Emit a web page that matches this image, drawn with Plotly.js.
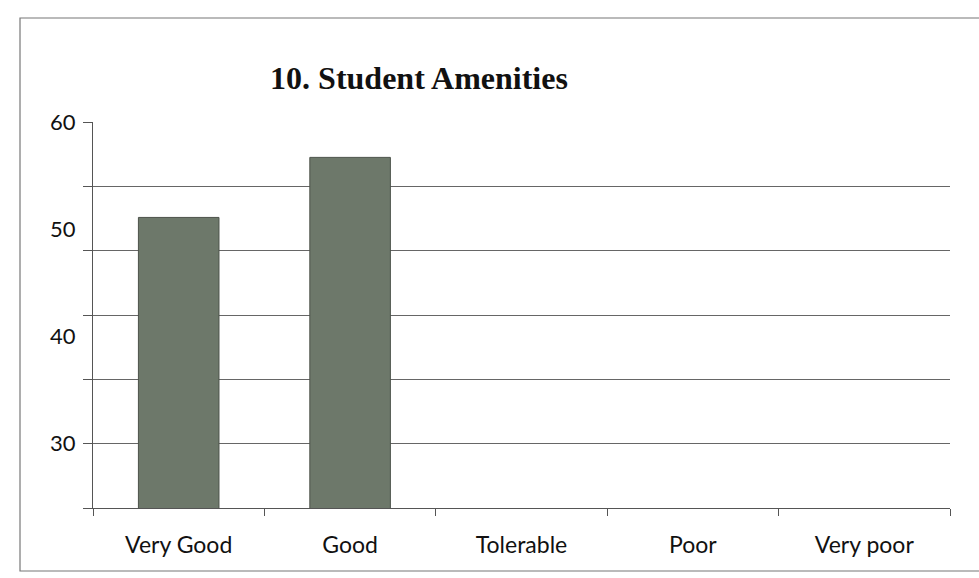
<!DOCTYPE html>
<html>
<head>
<meta charset="utf-8">
<script src="https://cdn.plot.ly/plotly-3.0.1.min.js"></script>
<style>html,body{margin:0;padding:0;background:#fff;}#chart{width:979px;height:578px;}</style>
</head>
<body>
<div id="chart"></div>
<script>
const categories = ["Very Good", "Good", "Tolerable", "Poor", "Very poor"];
const values = [51.1, 56.7, 0, 0, 0];
const yTickVals = [30, 40, 50, 60];
const yTickText = ["30", "40", "50", "60"];
const chartTitle = "10. Student Amenities";

const trace = {
  type: "bar",
  x: categories,
  y: values,
  marker: {color: "#6d786a", line: {color: "#4c524a", width: 1}},
  width: 0.47,
  hoverinfo: "x+y"
};

const layout = {
  width: 979,
  height: 578,
  margin: {l: 93, r: 29, t: 122, b: 70},
  paper_bgcolor: "#ffffff",
  plot_bgcolor: "#ffffff",
  showlegend: false,
  title: {
    text: "<b>" + chartTitle + "</b>",
    font: {family: "Liberation Serif, Times New Roman, serif", size: 32, color: "#111"},
    xref: "container", yref: "container",
    x: 0.428, xanchor: "center",
    y: 0.865, yanchor: "middle"
  },
  xaxis: {
    type: "category",
    showline: true, linecolor: "#555", linewidth: 1,
    ticks: "outside", tickson: "boundaries", ticklen: 7, tickcolor: "#555",
    showgrid: false,
    tickfont: {family: "Lato, Open Sans, sans-serif", size: 23, color: "#111"},
    ticklabelstandoff: 16
  },
  yaxis: {
    range: [24, 60],
    tickmode: "array",
    tickvals: yTickVals,
    ticktext: yTickText,
    showgrid: false,
    ticks: "",
    showline: true, linecolor: "#555", linewidth: 1,
    zeroline: false,
    tickfont: {family: "Lato, Open Sans, sans-serif", size: 22, color: "#111"},
    ticklabelstandoff: 12,
    minor: {tick0: 24, dtick: 6, showgrid: true, gridcolor: "#666", gridwidth: 1, ticks: "outside", ticklen: 9, tickcolor: "#555"}
  },
  shapes: [
    {type: "rect", xref: "paper", yref: "paper",
     x0: (20 - 93) / 857, x1: (995 - 93) / 857,
     y0: (508 - 571) / 386, y1: (508 - 18) / 386,
     line: {color: "#777", width: 1.2}, fillcolor: "rgba(0,0,0,0)", layer: "below"}
  ]
};

Plotly.newPlot("chart", [trace], layout, {displayModeBar: false, staticPlot: true});
</script>
</body>
</html>
